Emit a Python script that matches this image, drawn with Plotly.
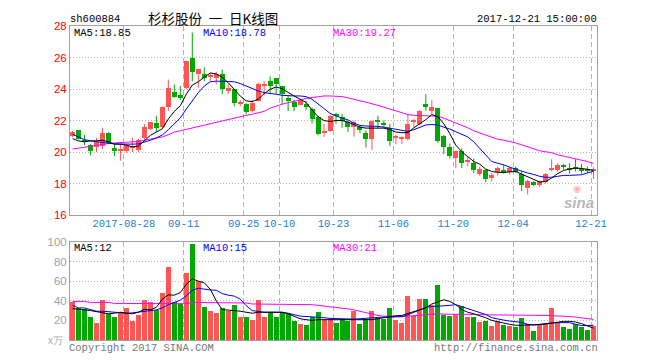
import plotly.graph_objects as go

# ---------------- data ----------------
dates = [
    "2017-08-15","2017-08-16","2017-08-17","2017-08-18","2017-08-21","2017-08-22","2017-08-23","2017-08-24","2017-08-25",
    "2017-08-28","2017-08-29","2017-08-30","2017-08-31","2017-09-01","2017-09-04","2017-09-05","2017-09-06","2017-09-07",
    "2017-09-08","2017-09-11","2017-09-12","2017-09-13","2017-09-14","2017-09-15","2017-09-18","2017-09-19","2017-09-20",
    "2017-09-21","2017-09-22","2017-09-25","2017-09-26","2017-09-27","2017-09-28","2017-09-29","2017-10-09","2017-10-10",
    "2017-10-11","2017-10-12","2017-10-13","2017-10-16","2017-10-17","2017-10-18","2017-10-19","2017-10-20","2017-10-23",
    "2017-10-24","2017-10-25","2017-10-26","2017-10-27","2017-10-30","2017-10-31","2017-11-01","2017-11-02","2017-11-03",
    "2017-11-06","2017-11-07","2017-11-08","2017-11-09","2017-11-10","2017-11-13","2017-11-14","2017-11-15","2017-11-16",
    "2017-11-17","2017-11-20","2017-11-21","2017-11-22","2017-11-23","2017-11-24","2017-11-27","2017-11-28","2017-11-29",
    "2017-11-30","2017-12-01","2017-12-04","2017-12-05","2017-12-06","2017-12-07","2017-12-08","2017-12-11","2017-12-12",
    "2017-12-13","2017-12-14","2017-12-15","2017-12-18","2017-12-19","2017-12-20","2017-12-21",
]

open_ = [21.02,21.37,20.78,20.44,20.29,20.40,21.23,20.23,20.10,20.08,20.28,20.10,20.90,21.48,21.83,21.58,22.83,23.83,
         23.60,24.04,26.00,24.96,24.96,24.77,24.67,24.96,23.88,23.98,23.05,23.04,22.58,23.25,24.20,24.50,24.67,24.19,
         23.42,23.19,23.00,23.08,22.73,22.25,21.25,21.33,22.40,22.25,21.88,21.58,21.58,21.23,20.81,22.04,21.85,21.54,
         20.90,20.85,20.85,21.96,21.79,23.08,22.63,22.79,21.00,20.29,19.60,20.08,19.38,19.29,18.63,18.88,18.35,18.71,
         18.88,18.71,18.98,18.63,17.73,18.08,17.88,18.08,18.90,18.83,19.10,18.98,19.00,18.92,18.92,18.83]
high = [21.33,21.40,21.10,20.50,20.90,21.54,21.25,20.50,20.50,20.50,20.90,20.85,21.79,21.90,22.31,22.90,24.60,24.29,
        24.19,25.80,27.58,25.30,25.38,25.02,25.10,25.23,24.29,24.00,23.30,23.10,23.30,24.40,24.50,24.80,24.70,24.20,
        23.60,23.30,23.40,23.25,22.83,22.30,21.79,22.37,22.50,22.40,22.00,22.00,21.69,21.38,22.00,22.31,22.00,21.79,
        21.10,21.00,22.35,22.10,22.67,23.67,23.29,22.80,21.10,20.54,20.10,20.23,19.71,19.60,19.08,18.90,18.67,19.08,
        19.19,19.08,19.08,18.77,18.25,18.15,18.20,18.67,19.54,19.29,19.25,19.29,19.54,19.25,19.08,19.04]
low = [20.95,20.80,20.45,19.80,20.00,20.20,20.50,19.75,19.45,19.96,20.00,20.00,20.70,21.40,21.27,21.50,22.60,23.45,
       23.30,23.98,24.50,24.08,24.50,24.50,24.30,23.67,23.67,22.90,22.90,22.40,22.50,23.20,23.60,23.70,23.70,23.00,
       22.60,22.60,22.95,22.67,21.80,21.06,20.96,21.27,21.80,21.54,21.27,20.98,21.20,20.29,20.13,21.48,21.60,20.38,
       20.50,20.50,20.75,21.60,21.69,22.63,22.42,20.58,19.88,19.60,18.98,18.98,19.08,18.67,18.50,18.08,18.15,18.50,
       18.63,18.56,18.67,17.52,17.31,17.83,17.80,18.00,18.77,18.77,18.88,18.63,18.77,18.63,18.67,18.29]
close = [21.27,20.86,20.62,20.08,20.65,21.23,20.58,20.06,20.14,20.44,20.32,20.79,21.60,21.88,21.50,22.88,24.04,23.50,
         23.42,25.79,25.06,25.27,24.67,24.80,24.96,23.98,24.04,23.10,23.10,22.52,23.10,24.29,24.35,24.20,24.29,23.67,
         23.25,22.88,23.29,22.83,22.10,21.17,21.30,22.27,22.30,21.94,21.58,21.88,21.38,20.81,21.94,21.88,21.77,20.71,
         21.00,20.90,21.79,22.00,22.58,22.88,22.88,20.71,20.29,19.75,20.08,19.29,19.42,18.83,18.92,18.29,18.56,18.98,
         18.67,18.98,18.73,17.88,18.15,17.88,18.15,18.60,18.94,19.19,19.06,18.88,18.96,18.83,18.83,18.92]

volume = [39.0,32.7,31.7,24.0,17.3,41.0,26.7,23.3,27.3,32.3,20.0,26.0,41.0,39.3,30.7,48.3,74.3,39.0,36.7,68.0,98.3,
          60.0,34.0,30.0,27.3,32.3,30.0,36.0,23.3,24.0,21.0,41.0,24.0,29.0,24.0,28.3,26.7,19.3,16.0,15.0,24.0,28.3,
          20.7,21.7,17.3,21.7,19.3,29.3,16.0,21.7,29.3,22.7,21.7,32.3,21.0,17.3,45.0,25.0,42.3,42.3,36.0,56.0,26.0,
          25.0,26.7,35.0,23.3,23.3,18.3,19.3,14.0,20.0,15.0,14.0,13.3,22.3,16.7,9.3,15.0,16.7,32.3,17.3,13.3,11.0,
          16.7,13.3,10.0,14.0]

ma5 = [20.85,20.71,20.65,20.71,20.71,20.75,20.65,20.50,20.50,20.44,20.33,20.38,20.71,21.06,21.27,21.48,22.10,22.58,
       22.94,23.67,24.25,24.46,24.75,25.02,24.96,24.75,24.40,23.98,23.56,23.25,23.20,23.35,23.71,23.98,24.13,24.02,
       23.77,23.56,23.35,23.15,22.67,22.25,22.00,21.94,22.00,22.00,21.90,21.75,21.58,21.52,21.52,21.52,21.52,21.42,
       21.27,21.23,21.23,21.54,21.79,22.06,22.38,22.25,21.79,21.17,20.44,20.02,19.71,19.40,19.23,18.92,18.77,18.71,
       18.71,18.75,18.77,18.60,18.42,18.25,18.10,18.13,18.35,18.63,18.83,18.92,18.98,18.96,18.92,18.85]
ma10 = [21.13,20.96,20.79,20.71,20.65,20.60,20.56,20.52,20.50,20.50,20.50,20.52,20.63,20.75,20.90,21.08,21.42,21.79,
        22.17,22.73,23.25,23.77,24.19,24.46,24.50,24.50,24.48,24.46,24.35,24.19,24.04,23.88,23.77,23.73,23.67,23.60,
        23.56,23.56,23.56,23.52,23.35,23.04,22.73,22.46,22.29,22.17,22.04,21.83,21.69,21.65,21.65,21.63,21.58,21.52,
        21.46,21.38,21.31,21.42,21.58,21.72,21.75,21.71,21.58,21.46,21.29,21.13,20.96,20.65,20.23,19.81,19.40,19.29,
        19.19,19.04,18.92,18.75,18.67,18.58,18.46,18.40,18.40,18.46,18.52,18.52,18.52,18.56,18.68,18.78]
ma30 = [20.19,20.25,20.33,20.38,20.42,20.48,20.54,20.58,20.60,20.63,20.65,20.67,20.75,20.81,20.90,20.96,21.10,21.27,
        21.35,21.44,21.52,21.63,21.71,21.79,21.88,21.96,22.06,22.17,22.27,22.33,22.40,22.48,22.58,22.79,22.94,23.04,
        23.13,23.23,23.33,23.40,23.46,23.52,23.56,23.56,23.56,23.52,23.44,23.33,23.25,23.17,23.04,22.96,22.85,22.73,
        22.58,22.46,22.38,22.33,22.31,22.29,22.31,22.27,22.15,22.00,21.85,21.71,21.54,21.35,21.21,21.06,20.94,20.81,
        20.75,20.67,20.58,20.46,20.33,20.21,20.08,20.02,19.96,19.83,19.73,19.65,19.56,19.48,19.40,19.27]

vma5 = [32.0,31.7,30.7,30.0,29.0,28.3,26.7,27.3,28.3,27.3,26.7,28.3,31.3,30.7,33.3,41.7,46.0,45.7,48.3,56.7,62.3,
        60.0,58.3,51.7,40.0,31.0,30.7,30.0,29.3,28.3,27.3,28.3,28.3,28.3,28.0,28.3,26.7,24.0,21.7,20.7,20.0,20.7,
        20.7,20.7,20.7,20.7,20.7,21.3,21.3,20.7,20.7,21.7,22.7,24.0,24.7,25.0,27.3,29.0,30.7,32.7,36.7,39.0,41.0,
        39.3,36.0,31.0,28.3,26.7,25.0,22.7,20.0,18.3,17.3,16.0,15.0,15.0,15.0,15.0,15.7,16.3,17.3,18.3,19.0,19.0,
        18.3,16.7,14.7,12.0]
vma10 = [35.3,32.7,32.7,31.3,29.3,29.3,28.7,28.0,27.3,27.3,27.7,28.3,29.3,30.0,30.7,32.7,36.0,38.3,40.7,45.0,50.7,
         52.7,51.7,51.0,50.7,47.3,45.7,44.7,41.7,35.0,30.0,29.0,28.3,28.3,28.3,28.3,27.3,25.7,24.3,24.0,23.7,23.3,
         22.7,22.0,21.7,21.3,21.0,21.3,21.7,22.3,22.7,23.0,23.3,23.3,23.3,23.7,25.7,28.3,30.7,33.3,34.0,34.3,34.7,
         35.3,36.0,34.0,31.7,30.0,28.0,26.0,22.7,21.3,20.3,19.3,18.3,18.0,16.0,15.3,16.0,17.0,17.3,17.7,18.0,17.7,
         16.0,14.7,14.7,15.0]
vma30 = [39.3,39.3,39.3,38.3,38.3,38.3,38.3,37.3,37.3,37.3,37.3,37.3,37.3,37.3,37.3,37.3,37.3,37.3,37.3,37.0,38.3,
         38.3,38.3,38.3,37.7,37.7,37.7,37.7,37.7,37.7,36.7,36.7,36.7,36.7,36.7,36.7,36.7,36.7,36.0,36.0,36.0,35.3,
         34.7,34.0,33.3,32.7,31.7,30.7,29.3,28.0,26.3,25.0,24.3,24.0,24.0,24.0,24.3,24.7,25.0,25.3,26.3,26.7,26.3,
         26.3,26.7,26.3,26.3,26.0,26.0,25.7,25.7,25.7,25.3,25.3,25.3,25.3,25.0,25.0,25.0,25.0,24.7,24.7,24.7,24.0,
         23.3,22.7,22.0,21.0]

tick_dates = ["2017-08-28","2017-09-11","2017-09-25","2017-10-10","2017-10-23",
              "2017-11-06","2017-11-20","2017-12-04","2017-12-21"]
tick_labels = ["2017-08-28","09-11","09-25","10-10","10-23","11-06","11-20","12-04","12-21"]
price_ticks = [16, 18, 20, 22, 24, 26, 28]
vol_ticks = [20, 40, 60, 80, 100]

# ---------------- styling ----------------
RED = "#ff5555"
GREEN = "#00a800"
GRID = "#b4b4b4"
BORDER = "#a0a0a0"
MONO = "Liberation Mono, DejaVu Sans Mono, monospace"
SANS = "Liberation Sans, Arial, sans-serif"
CJK = "Noto Sans CJK SC, sans-serif"
OFF = 0.42

n = len(dates)
idx = list(range(n))
up = [c >= o for o, c in zip(open_, close)]
colors = [RED if u else GREEN for u in up]
body_base = [min(o, c) for o, c in zip(open_, close)]
body_h = [max(abs(c - o), 0.07) for o, c in zip(open_, close)]

fig = go.Figure()

# wicks
for want, col in ((True, RED), (False, GREEN)):
    wx, wy = [], []
    for i in idx:
        if up[i] == want:
            wx += [i, i, None]
            wy += [low[i], high[i], None]
    fig.add_trace(go.Scatter(x=wx, y=wy, mode="lines", line=dict(color=col, width=1),
                             hoverinfo="skip", xaxis="x", yaxis="y"))

# bodies
fig.add_trace(go.Bar(x=idx, y=body_h, base=body_base, width=0.835, marker=dict(color=colors, line=dict(width=0)),
                     xaxis="x", yaxis="y", hovertext=dates))

# price MAs
for arr, col in ((ma30, "#ff00ff"), (ma10, "#0000ff"), (ma5, "#000000")):
    fig.add_trace(go.Scatter(x=idx, y=arr, mode="lines", line=dict(color=col, width=1),
                             hoverinfo="skip", xaxis="x", yaxis="y"))

# volume
fig.add_trace(go.Bar(x=idx, y=volume, width=0.835, marker=dict(color=colors, line=dict(width=0)),
                     xaxis="x2", yaxis="y2", hovertext=dates))
for arr, col in ((vma30, "#ff00ff"), (vma10, "#0000ff"), (vma5, "#000000")):
    fig.add_trace(go.Scatter(x=idx, y=arr, mode="lines", line=dict(color=col, width=1),
                             hoverinfo="skip", xaxis="x2", yaxis="y2"))

tickpos = [dates.index(d) - OFF for d in tick_dates]
xr = [-OFF, n - OFF]

# page geometry (the page body has an 8px default margin)
BODY = 8
PLOT_L, PLOT_R, PLOT_T, PLOT_B = 70, 597, 20, 340   # plot area in page pixels
W, H = 660 - BODY, 360 - BODY
L, T = PLOT_L - BODY, PLOT_T - BODY
R = W - (PLOT_R - BODY)
B = H - (PLOT_B - BODY)
PW, PH = PLOT_R - PLOT_L, PLOT_B - PLOT_T
main_bottom_px = 212.7
vol_top_px = 240.0


def pp(x, y):
    return (x - PLOT_L) / PW, (PLOT_B - y) / PH


def ann(text, x, y, color, size, family=MONO, xanchor="left"):
    ax, ay = pp(x, y)
    return dict(text=text, x=ax, y=ay, xref="paper", yref="paper", showarrow=False, borderpad=0,
                xanchor=xanchor, yanchor="middle", font=dict(color=color, size=size, family=family))


annotations = [
    ann("sh600884", 69, 12.5, "#000000", 10.5),
    ann("杉杉股份\u2002一\u2002日K线图", 213, 11.5, "#000000", 13.5, CJK, "center"),
    ann("2017-12-21 15:00:00", 598, 12.5, "#000000", 10.5, MONO, "right"),
    ann(f"MA5:{ma5[-1]:.2f}", 73, 27, "#000000", 10.5),
    ann(f"MA10:{ma10[-1]:.2f}", 202, 27, "#0000ff", 10.5),
    ann(f"MA30:{ma30[-1]:.2f}", 332, 27, "#ff00ff", 10.5),
    ann(f"MA5:{vma5[-1]:.0f}", 73, 246.5, "#000000", 10.5),
    ann(f"MA10:{vma10[-1]:.0f}", 202, 246.5, "#0000ff", 10.5),
    ann(f"MA30:{vma30[-1]:.0f}", 332, 246.5, "#ff00ff", 10.5),
    ann("x万", 64, 340, "#aaaaaa", 10, SANS, "right"),
    ann("Copyright 2017 SINA.COM", 68, 348, "#777777", 10.5),
    ann("http://finance.sina.com.cn", 599, 348, "#777777", 10.5, MONO, "right"),
    ann("◉", 577, 186, "rgba(245,110,110,0.5)", 10, "DejaVu Sans", "center"),
    ann("<b><i>sina</i></b>", 579, 200, "#b8b8b8", 15, SANS, "center"),
]

fig.update_layout(
    width=W, height=H,
    margin=dict(l=L, r=R, t=T, b=B, pad=0),
    paper_bgcolor="white", plot_bgcolor="white",
    showlegend=False, barmode="overlay", bargap=0,
    hovermode=False,
    annotations=annotations,
    xaxis=dict(domain=[0, 1], range=xr, anchor="y", tickmode="array", tickvals=tickpos, ticktext=tick_labels,
               showgrid=True, gridcolor=GRID, griddash="5px,3px", gridwidth=1, zeroline=False,
               showline=True, mirror=True, linecolor=BORDER, linewidth=1, ticks="", ticklabelstandoff=-2,
               tickfont=dict(family=MONO, size=10.5, color="#1a7fd0"), fixedrange=True),
    xaxis2=dict(domain=[0, 1], range=xr, anchor="y2", matches="x", tickmode="array", tickvals=tickpos,
                showticklabels=False, showgrid=True, gridcolor=GRID, griddash="5px,3px", gridwidth=1,
                zeroline=False, showline=True, mirror=True, linecolor=BORDER, linewidth=1, ticks=""),
    yaxis=dict(domain=[(PLOT_B - main_bottom_px) / PH, 1], range=[16, 28], anchor="x", tickmode="array",
               tickvals=price_ticks, showgrid=True, gridcolor=GRID, griddash="1px,2px", gridwidth=1,
               zeroline=False, showline=True, mirror=True, linecolor=BORDER, linewidth=1, ticks="",
               tickfont=dict(family=SANS, size=11.5, color="#ff0000")),
    yaxis2=dict(domain=[0, (PLOT_B - vol_top_px) / PH], range=[0, 100], anchor="x2", tickmode="array",
                tickvals=vol_ticks, showgrid=True, gridcolor=GRID, griddash="1px,2px", gridwidth=1,
                zeroline=False, showline=True, mirror=True, linecolor=BORDER, linewidth=1, ticks="",
                tickfont=dict(family=SANS, size=11.5, color="#a0a0a0")),
)

fig.write_html("out.html")
